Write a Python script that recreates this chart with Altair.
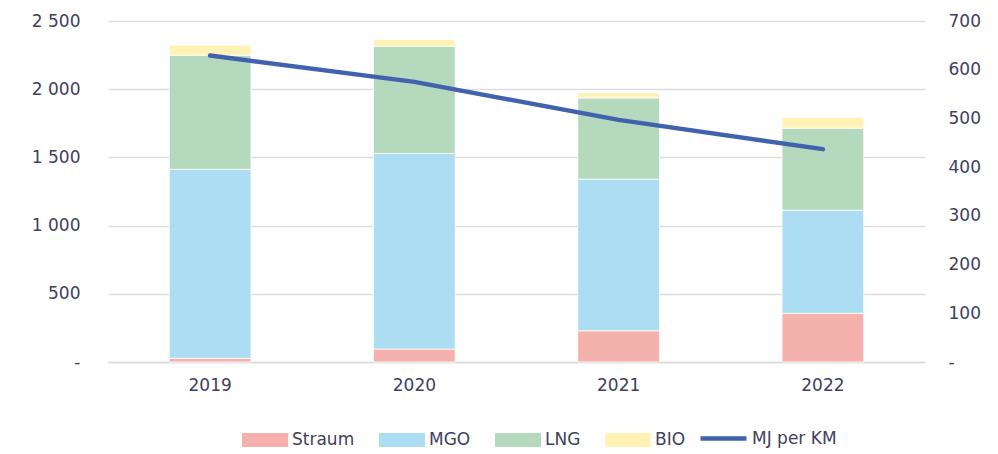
import altair as alt
import pandas as pd

years = ["2019", "2020", "2021", "2022"]
fuels = ["Straum", "MGO", "LNG", "BIO"]
straum = [27, 95, 229, 357]
mgo = [1385, 1434, 1111, 756]
lng = [837, 786, 596, 601]
bio = [73, 49, 37, 78]
mj_per_km = [629, 575, 497, 437]

fuel_colors = ["#F5B2AC", "#ACDDF2", "#B5D9BC", "#FFF2B4"]
line_color = "#4163AE"
text_color = "#404060"
font = "DejaVu Sans"

rows = []
for i, y in enumerate(years):
    for k, (f, vals) in enumerate(zip(fuels, [straum, mgo, lng, bio])):
        rows.append({"year": y, "fuel": f, "value": vals[i], "order": k})
bars_df = pd.DataFrame(rows)
line_df = pd.DataFrame({"year": years, "mj": mj_per_km, "series": ["MJ per KM"] * 4})

x_enc = alt.X(
    "year:N",
    title=None,
    sort=years,
    scale=alt.Scale(paddingInner=0.6, paddingOuter=0.3),
    axis=alt.Axis(
        labelAngle=0, ticks=False, tickSize=0, domain=True, domainColor="#D9D9D9",
        domainWidth=1.5, labelPadding=15, labelFontSize=17, labelFont=font,
        labelColor=text_color, grid=False,
    ),
)

bars = alt.Chart(bars_df).mark_bar(stroke="white", strokeWidth=0.8).encode(
    x=x_enc,
    y=alt.Y(
        "sum(value):Q",
        title=None,
        scale=alt.Scale(domain=[0, 2500], nice=False),
        axis=alt.Axis(
            values=[0, 500, 1000, 1500, 2000, 2500],
            labelExpr="datum.value == 0 ? '-\u00a0\u00a0' : replace(format(datum.value, ','), ',', ' ')",
            ticks=False, tickSize=0, domain=False, labelPadding=28,
            labelFontSize=17, labelFont=font, labelColor=text_color,
            grid=True, gridColor="#DDDDDD", gridWidth=1.3,
        ),
    ),
    color=alt.Color(
        "fuel:N",
        scale=alt.Scale(domain=fuels, range=fuel_colors),
        legend=alt.Legend(
            title=None, orient="none", direction="horizontal",
            legendX=134, legendY=396,
            symbolType="M-1,-0.3H1V0.3H-1Z", symbolSize=2116,
            symbolStrokeWidth=0, labelOffset=4, columnPadding=24,
            labelFontSize=17, labelFont=font, labelColor=text_color,
        ),
    ),
    order=alt.Order("order:Q", sort="ascending"),
)

line = alt.Chart(line_df).mark_line(strokeWidth=4.5, strokeCap="round").encode(
    x=alt.X("year:N", sort=years),
    y=alt.Y(
        "mj:Q",
        title=None,
        scale=alt.Scale(domain=[0, 700], nice=False),
        axis=alt.Axis(
            orient="right",
            values=[0, 100, 200, 300, 400, 500, 600, 700],
            labelExpr="datum.value == 0 ? '-' : format(datum.value, 'd')",
            ticks=False, tickSize=0, domain=False, labelPadding=23,
            labelFontSize=17, labelFont=font, labelColor=text_color, grid=False,
        ),
    ),
    color=alt.Color(
        "series:N",
        scale=alt.Scale(domain=["MJ per KM"], range=[line_color]),
        legend=alt.Legend(
            title=None, orient="none", direction="horizontal",
            legendX=590, legendY=392,
            symbolType="stroke", symbolSize=2116, symbolStrokeWidth=4.5,
            labelOffset=3, labelFontSize=17, labelFont=font, labelColor=text_color,
        ),
    ),
)

chart = (
    alt.layer(bars, line)
    .resolve_scale(y="independent", color="independent")
    .properties(
        width=817, height=341,
        autosize=alt.AutoSizeParams(type="none"),
        padding={"left": 100, "top": 13, "right": 65, "bottom": 90},
        background="white",
    )
    .configure_view(stroke=None)
)

chart.save("out.html", embed_options={"renderer": "svg", "actions": False})
